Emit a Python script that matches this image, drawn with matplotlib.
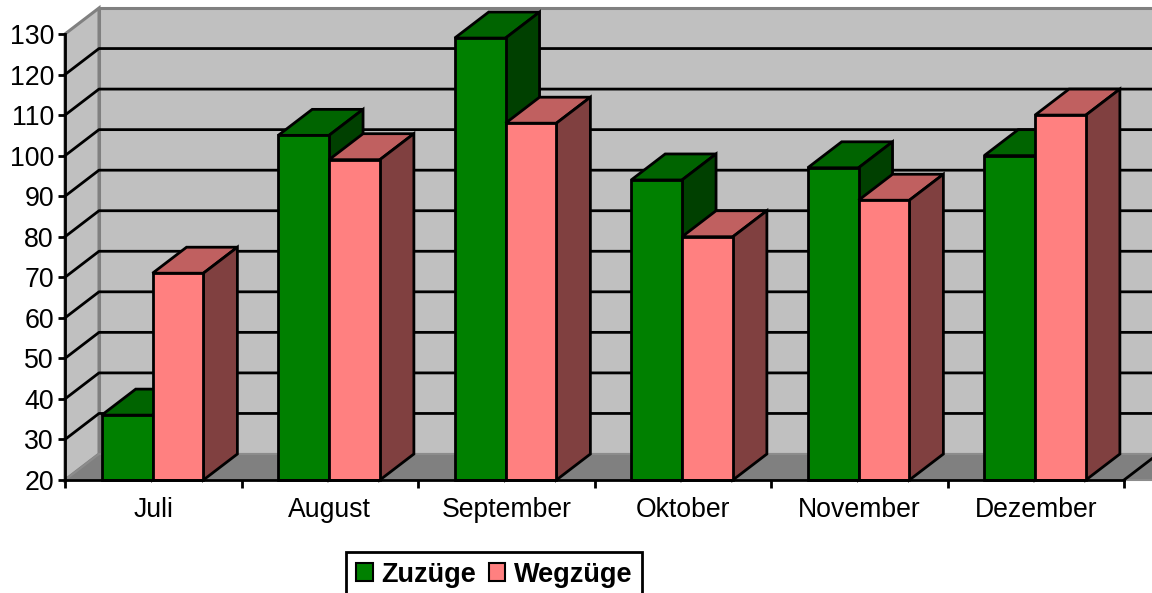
import matplotlib
matplotlib.use('Agg')
import matplotlib.pyplot as plt
from matplotlib.patches import Polygon, Patch

plt.rcParams['font.family'] = ['Liberation Sans', 'DejaVu Sans']

months = ['Juli', 'August', 'September', 'Oktober', 'November', 'Dezember']
zuzuege = [36, 105, 129, 94, 97, 100]
wegzuege = [71, 99, 108, 80, 89, 110]
y_ticks = list(range(20, 131, 10))

W, H = 1152, 593
fig = plt.figure(figsize=(W / 100, H / 100), dpi=100)
ax = fig.add_axes([65 / W, (H - 480) / H, (1124 - 65) / W, 446 / H])
ax.set_xlim(0, 6)
ax.set_ylim(20, 130)
ax.patch.set_visible(False)

# depth of the fake 3d box, in data units
dx = 34 / (1059 / 6)
dy = 26 / (446 / 110)
bar_off = 0.208
bar_w = 0.288
LW = 2.0


def poly(pts, fc, ec='black', lw=LW, z=3):
    ax.add_patch(Polygon(pts, closed=True, facecolor=fc, edgecolor=ec, linewidth=lw,
                         zorder=z, clip_on=False, joinstyle='miter'))


# walls and floor
x_end = 6.2
poly([(dx, 20 + dy), (x_end, 20 + dy), (x_end, 130 + dy), (dx, 130 + dy)], '#C0C0C0', '#808080', 2.2, 1)
poly([(0, 20), (dx, 20 + dy), (dx, 130 + dy), (0, 130)], '#C0C0C0', '#808080', 2.2, 1)
poly([(0, 20), (x_end, 20), (x_end, 20 + dy), (dx, 20 + dy)], '#808080', '#8C8C8C', 1.5, 1)

for v in y_ticks[1:-1]:
    ax.plot([0, dx, x_end], [v, v + dy, v + dy], color='black', lw=LW, zorder=2, clip_on=False)
ax.plot([6, 6 + dx * 0.85], [20, 20 + dy * 0.85], color='black', lw=LW, zorder=2, clip_on=False)


def bar3d(x, v, front, top, side, z):
    poly([(x, v), (x + dx, v + dy), (x + bar_w + dx, v + dy), (x + bar_w, v)], top, z=z)
    poly([(x + bar_w, 20), (x + bar_w + dx, 20 + dy), (x + bar_w + dx, v + dy), (x + bar_w, v)], side, z=z)
    poly([(x, 20), (x + bar_w, 20), (x + bar_w, v), (x, v)], front, z=z)


for i in range(len(months)):
    bar3d(i + bar_off, zuzuege[i], '#008000', '#006400', '#004000', 3 + i * 0.1)
    bar3d(i + bar_off + bar_w, wegzuege[i], '#FF8080', '#C06060', '#804040', 3.05 + i * 0.1)

for s in ['top', 'right']:
    ax.spines[s].set_visible(False)
for s in ['left', 'bottom']:
    ax.spines[s].set_linewidth(LW)
    ax.spines[s].set_zorder(6)

ax.set_yticks(y_ticks)
ax.set_yticklabels([str(v) for v in y_ticks], fontsize=19.3)
ax.tick_params(axis='y', length=5, width=LW, pad=3)
ax.set_xticks(range(7))
ax.set_xticklabels([''] * 7)
ax.tick_params(axis='x', length=6, width=LW)
for i, m in enumerate(months):
    ax.annotate(m, (i + 0.5, 20), xytext=(0, -30), textcoords='offset pixels', ha='center', va='center',
                fontsize=19.2, annotation_clip=False)

handles = [Patch(facecolor='#008000', edgecolor='black', linewidth=1.5, label='Zuz\u00fcge'),
           Patch(facecolor='#FF8080', edgecolor='black', linewidth=1.5, label='Wegz\u00fcge')]
leg = fig.legend(handles=handles, loc='center', bbox_to_anchor=(494 / W, (H - 574.5) / H), ncol=2,
                 frameon=True, fancybox=False, edgecolor='black', framealpha=1,
                 prop={'weight': 'bold', 'size': 19.5}, handlelength=0.62, handleheight=0.62,
                 handletextpad=0.3, columnspacing=0.48, borderpad=0.36, borderaxespad=0)
leg.get_frame().set_linewidth(LW)

fig.savefig('out.png', dpi=100)
